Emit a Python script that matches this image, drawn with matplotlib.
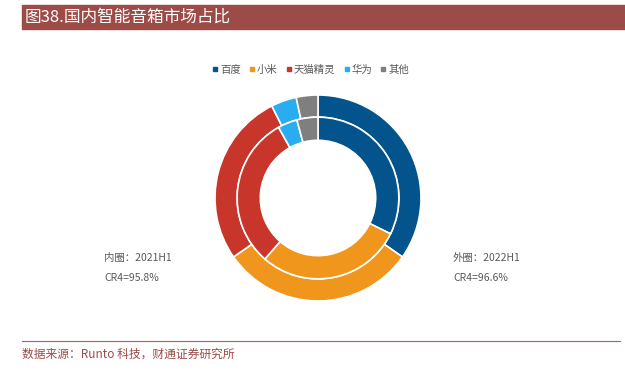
import matplotlib.pyplot as plt
from matplotlib.lines import Line2D
from matplotlib.patches import Rectangle

plt.rcParams['font.family'] = ['Noto Sans CJK SC', 'DejaVu Sans']

# market share (%)
brands = ['百度', '小米', '天猫精灵', '华为', '其他']
share_2022h1 = [34.7, 30.6, 27.3, 4.0, 3.4]   # outer ring
share_2021h1 = [32.3, 29.1, 30.5, 3.9, 4.2]   # inner ring
colors = ['#03548C', '#F0961C', '#C8352A', '#2AADF0', '#7F7F7F']

title = '图38.国内智能音箱市场占比'
source = '数据来源：Runto 科技，财通证券研究所'

W, H = 625, 375
fig = plt.figure(figsize=(W / 100, H / 100), dpi=100)

# title bar
fig.patches.append(Rectangle((22 / W, 1 - 29 / H), 1 - 22 / W, 24 / H,
                             transform=fig.transFigure, color='#9C4B46', zorder=0))
fig.text(25 / W, 1 - 17 / H, title, color='white', fontsize=12, va='center', ha='left')

# footer
fig.add_artist(Line2D([22 / W, 620 / W], [1 - 341 / H, 1 - 341 / H],
                      transform=fig.transFigure, color='#A8615C', lw=0.8))
fig.text(22 / W, 1 - 354 / H, source, color='#9C4B46', fontsize=8.5, va='center', ha='left')

# donut
cx, cy, r = 318, 198, 103
ax = fig.add_axes([(cx - r) / W, 1 - (cy + r) / H, 2 * r / W, 2 * r / H])
wp = dict(edgecolor='white', linewidth=1.2)
ax.pie(share_2022h1, colors=colors, radius=1.0, startangle=90, counterclock=False,
       wedgeprops=dict(width=0.215, **wp))
ax.pie(share_2021h1, colors=colors, radius=0.785, startangle=90, counterclock=False,
       wedgeprops=dict(width=0.225, **wp))
ax.set_xlim(-1, 1)
ax.set_ylim(-1, 1)
ax.set_aspect('equal')
ax.axis('off')

# legend
handles = [Line2D([], [], marker='s', linestyle='', markersize=3, color=c) for c in colors]
fig.legend(handles, brands, loc='center', bbox_to_anchor=(311 / W, 1 - 70 / H), ncol=5,
           frameon=False, fontsize=7.5, handlelength=0.4, handletextpad=0.25,
           columnspacing=0.9, labelcolor='#595959')

# ring notes
txt = dict(color='#595959', fontsize=7.5, va='center', ha='left')
fig.text(104 / W, 1 - 258 / H, '内圈：2021H1', **txt)
fig.text(104 / W, 1 - 278 / H, 'CR4=95.8%', **txt)
fig.text(453 / W, 1 - 258 / H, '外圈：2022H1', **txt)
fig.text(453 / W, 1 - 278 / H, 'CR4=96.6%', **txt)

fig.savefig('out.png', dpi=100)
